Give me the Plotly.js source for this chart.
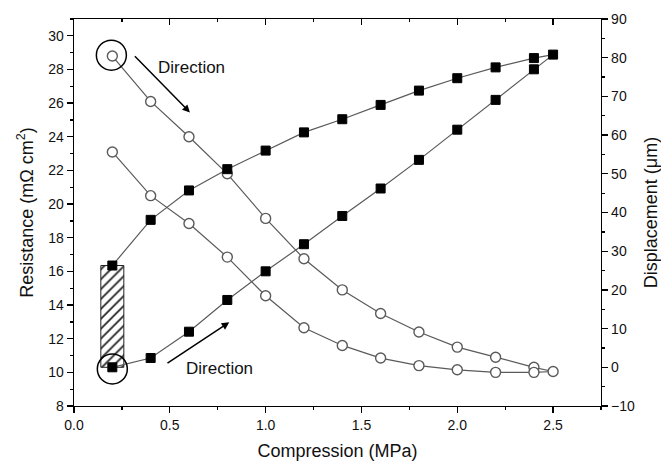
<!DOCTYPE html>
<html>
<head>
<meta charset="utf-8">
<script src="https://cdn.plot.ly/plotly-3.0.1.min.js"></script>
<style>html,body{margin:0;padding:0;background:#fff;}#chart{width:661px;height:467px;}</style>
</head>
<body>
<div id="chart"></div>
<script>
// Compression (MPa): loading path then unloading path
const pressureLoad = [0.2, 0.4, 0.6, 0.8, 1.0, 1.2, 1.4, 1.6, 1.8, 2.0, 2.2, 2.4, 2.5];
const pressureUnload = [2.4, 2.2, 2.0, 1.8, 1.6, 1.4, 1.2, 1.0, 0.8, 0.6, 0.4, 0.2];
// Resistance (mΩ cm²)
const resistanceLoad = [28.8, 26.1, 24.0, 21.8, 19.15, 16.75, 14.9, 13.5, 12.4, 11.5, 10.9, 10.3, 10.05];
const resistanceUnload = [10.0, 10.0, 10.15, 10.4, 10.85, 11.6, 12.65, 14.55, 16.85, 18.85, 20.5, 23.1];
// Displacement (µm)
const displacementLoad = [0, 2.4, 9.2, 17.4, 24.8, 31.8, 39.1, 46.2, 53.6, 61.4, 69.1, 77.0, 80.8];
const displacementUnload = [79.9, 77.5, 74.7, 71.5, 67.8, 64.1, 60.7, 56.0, 51.2, 45.7, 38.1, 26.3];
// Tick settings
const xTicks = [0, 0.5, 1.0, 1.5, 2.0, 2.5];
const xTickLabels = ['0.0', '0.5', '1.0', '1.5', '2.0', '2.5'];

const px = pressureLoad.concat(pressureUnload);
const res = resistanceLoad.concat(resistanceUnload);
const disp = displacementLoad.concat(displacementUnload);

// residual displacement at the first pressure (hatched box)
const residualX = pressureLoad[0];
const residualBase = displacementLoad[0];
const residualTop = displacementUnload[displacementUnload.length - 1];

const FONT = 'Liberation Sans, Arial, Helvetica, sans-serif';

const traces = [
  {
    type: 'bar', x: [residualX], y: [residualTop - residualBase], base: [residualBase],
    xaxis: 'x', yaxis: 'y2', width: 0.12, showlegend: false, hoverinfo: 'skip',
    marker: {color: 'white', line: {color: '#222', width: 1},
      pattern: {shape: '/', fgcolor: '#222', bgcolor: 'white', size: 7, solidity: 0.25}}
  },
  {
    type: 'scatter', mode: 'lines+markers', x: px, y: res, xaxis: 'x', yaxis: 'y',
    showlegend: false,
    line: {color: '#5a5a5a', width: 1.2},
    marker: {symbol: 'circle', size: 10, color: 'white', line: {color: '#5a5a5a', width: 1.4}}
  },
  {
    type: 'scatter', mode: 'lines+markers', x: px, y: disp, xaxis: 'x', yaxis: 'y2',
    showlegend: false,
    line: {color: '#5a5a5a', width: 1.2},
    marker: {symbol: 'square', size: 9, color: 'black', line: {color: 'black', width: 1}}
  },
  {
    type: 'scatter', mode: 'markers', x: [null], y: [null], xaxis: 'x2', yaxis: 'y',
    showlegend: false, hoverinfo: 'skip'
  }
];

const axisCommon = {
  showgrid: false, zeroline: false, showline: true, linecolor: 'black', linewidth: 1.3,
  ticks: 'outside', ticklen: 6, tickwidth: 1.3, tickcolor: 'black',
  tickfont: {family: FONT, size: 14, color: '#111'}
};

const layout = {
  width: 661, height: 467,
  margin: {l: 74, r: 60, t: 19, b: 61},
  paper_bgcolor: 'white', plot_bgcolor: 'white',
  font: {family: FONT, color: '#111'},
  showlegend: false,
  bargap: 0,
  xaxis: Object.assign({}, axisCommon, {
    range: [0, 2.75], tickmode: 'array', tickvals: xTicks, ticktext: xTickLabels,
    minor: {dtick: 0.25, tick0: 0, ticks: 'outside', ticklen: 3, tickwidth: 1.3, tickcolor: 'black'},
    title: {text: 'Compression (MPa)', font: {family: FONT, size: 18, color: '#111'}, standoff: 12}
  }),
  xaxis2: {
    overlaying: 'x', side: 'top', range: [0, 2.75], showgrid: false, zeroline: false,
    showline: true, linecolor: 'black', linewidth: 1.3, showticklabels: false,
    ticks: 'inside', ticklen: 6, tickwidth: 1.3, tickcolor: 'black', tickmode: 'array', tickvals: xTicks,
    minor: {dtick: 0.25, tick0: 0, ticks: 'inside', ticklen: 3, tickwidth: 1.3, tickcolor: 'black'}
  },
  yaxis: Object.assign({}, axisCommon, {
    range: [8, 31], tick0: 0, dtick: 2,
    minor: {dtick: 1, tick0: 0, ticks: 'outside', ticklen: 3, tickwidth: 1.3, tickcolor: 'black'},
    title: {text: 'Resistance (mΩ cm<sup>2</sup>)', font: {family: FONT, size: 18, color: '#111'}, standoff: 10}
  }),
  yaxis2: Object.assign({}, axisCommon, {
    overlaying: 'y', side: 'right', range: [-10, 90], tick0: 0, dtick: 10,
    minor: {dtick: 5, tick0: 0, ticks: 'outside', ticklen: 3, tickwidth: 1.3, tickcolor: 'black'},
    title: {text: 'Displacement (μm)', font: {family: FONT, size: 18, color: '#111'}, standoff: 12}
  }),
  shapes: [
    {type: 'circle', xref: 'x', yref: 'y', xsizemode: 'pixel', ysizemode: 'pixel',
     xanchor: 0.195, yanchor: 28.85, x0: -15, x1: 15, y0: -15, y1: 15,
     line: {color: 'black', width: 1.5}},
    {type: 'circle', xref: 'x', yref: 'y', xsizemode: 'pixel', ysizemode: 'pixel',
     xanchor: 0.2, yanchor: 10.2, x0: -15, x1: 15, y0: -15, y1: 15,
     line: {color: 'black', width: 1.5}}
  ],
  annotations: [
    {xref: 'x', yref: 'y', axref: 'x', ayref: 'y', x: 0.605, y: 25.45, ax: 0.31, ay: 28.87,
     text: '', showarrow: true, arrowhead: 2, arrowsize: 1, arrowwidth: 1.5, arrowcolor: 'black'},
    {xref: 'x', yref: 'y', x: 0.613, y: 28.12, text: 'Direction', showarrow: false,
     font: {family: FONT, size: 17, color: '#111'}},
    {xref: 'x', yref: 'y', axref: 'x', ayref: 'y', x: 0.81, y: 12.97, ax: 0.48, ay: 10.49,
     text: '', showarrow: true, arrowhead: 2, arrowsize: 1, arrowwidth: 1.5, arrowcolor: 'black'},
    {xref: 'x', yref: 'y', x: 0.76, y: 10.21, text: 'Direction', showarrow: false,
     font: {family: FONT, size: 17, color: '#111'}}
  ]
};

Plotly.newPlot('chart', traces, layout, {displayModeBar: false, staticPlot: true});
</script>
</body>
</html>
